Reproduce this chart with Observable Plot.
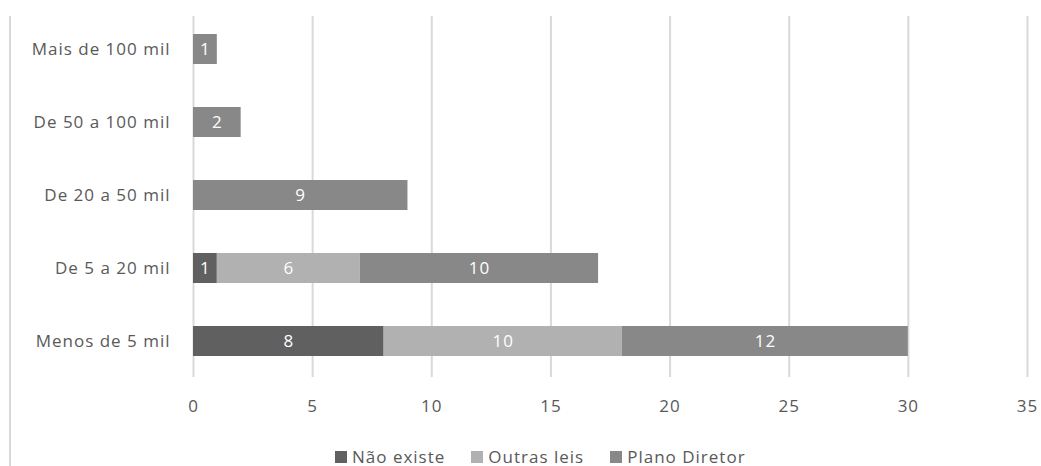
<!DOCTYPE html>
<html>
<head>
<meta charset="utf-8">
<script src="https://cdn.jsdelivr.net/npm/d3@7"></script>
<script src="https://cdn.jsdelivr.net/npm/@observablehq/plot@0.6"></script>
<style>
  html, body { margin: 0; padding: 0; background: #fff; }
  #wrap { position: relative; width: 1041px; height: 466px; font-family: "Open Sans", Lato, sans-serif; }
  #edge { position: absolute; left: 9px; top: 16px; width: 2px; height: 450px; background: #d9d9d9; }
  #legend { position: absolute; top: 446px; left: 335px; display: flex; gap: 26px; font-size: 17px; letter-spacing: 1px; color: #595959; line-height: 22px; }
  #legend span.item { display: inline-flex; align-items: center; gap: 5px; }
  #legend span.sw { width: 12px; height: 12px; display: inline-block; }
</style>
</head>
<body>
<div id="wrap">
  <div id="edge"></div>
  <div id="chart"></div>
  <div id="legend"></div>
</div>
<script>
// Municípios por faixa de população, segundo o instrumento legal
const categories = ["Mais de 100 mil", "De 50 a 100 mil", "De 20 a 50 mil", "De 5 a 20 mil", "Menos de 5 mil"];
const seriesNames = ["Não existe", "Outras leis", "Plano Diretor"];
const seriesColors = ["#606060", "#b1b1b1", "#888888"];
const naoExiste    = [0, 0, 0, 1, 8];
const outrasLeis   = [0, 0, 0, 6, 10];
const planoDiretor = [1, 2, 9, 10, 12];
const xTicks = [0, 5, 10, 15, 20, 25, 30, 35];

const seriesValues = [naoExiste, outrasLeis, planoDiretor];
const rows = [];
seriesNames.forEach((s, i) => {
  categories.forEach((c, j) => {
    rows.push({series: s, cat: c, value: seriesValues[i][j]});
  });
});
const nonZero = rows.filter(d => d.value > 0);

const chart = Plot.plot({
  width: 1041,
  height: 430,
  marginLeft: 193,
  marginRight: 14,
  marginTop: 12,
  marginBottom: 53,
  style: {fontFamily: "'Open Sans', Lato, sans-serif", fontSize: "17px", letterSpacing: "1px", color: "#595959", background: "transparent"},
  x: {domain: [0, 35], ticks: xTicks, label: null, tickSize: 0, tickPadding: 22},
  y: {domain: categories, label: null, tickSize: 0, tickPadding: 23, paddingInner: 0.59, paddingOuter: 0.295},
  color: {domain: seriesNames, range: seriesColors},
  marks: [
    Plot.ruleX(xTicks, {stroke: "#d9d9d9", strokeWidth: 2, insetTop: 4}),
    Plot.barX(nonZero, Plot.stackX({x: "value", y: "cat", fill: "series", z: "series", order: seriesNames})),
    Plot.text(nonZero, Plot.stackX({x: "value", y: "cat", z: "series", text: d => String(d.value), fill: "white", fontSize: 17, order: seriesNames}))
  ]
});
document.getElementById("chart").appendChild(chart);

const legend = document.getElementById("legend");
seriesNames.forEach((s, i) => {
  const item = document.createElement("span");
  item.className = "item";
  const sw = document.createElement("span");
  sw.className = "sw";
  sw.style.background = seriesColors[i];
  item.appendChild(sw);
  item.appendChild(document.createTextNode(s));
  legend.appendChild(item);
});
</script>
</body>
</html>
